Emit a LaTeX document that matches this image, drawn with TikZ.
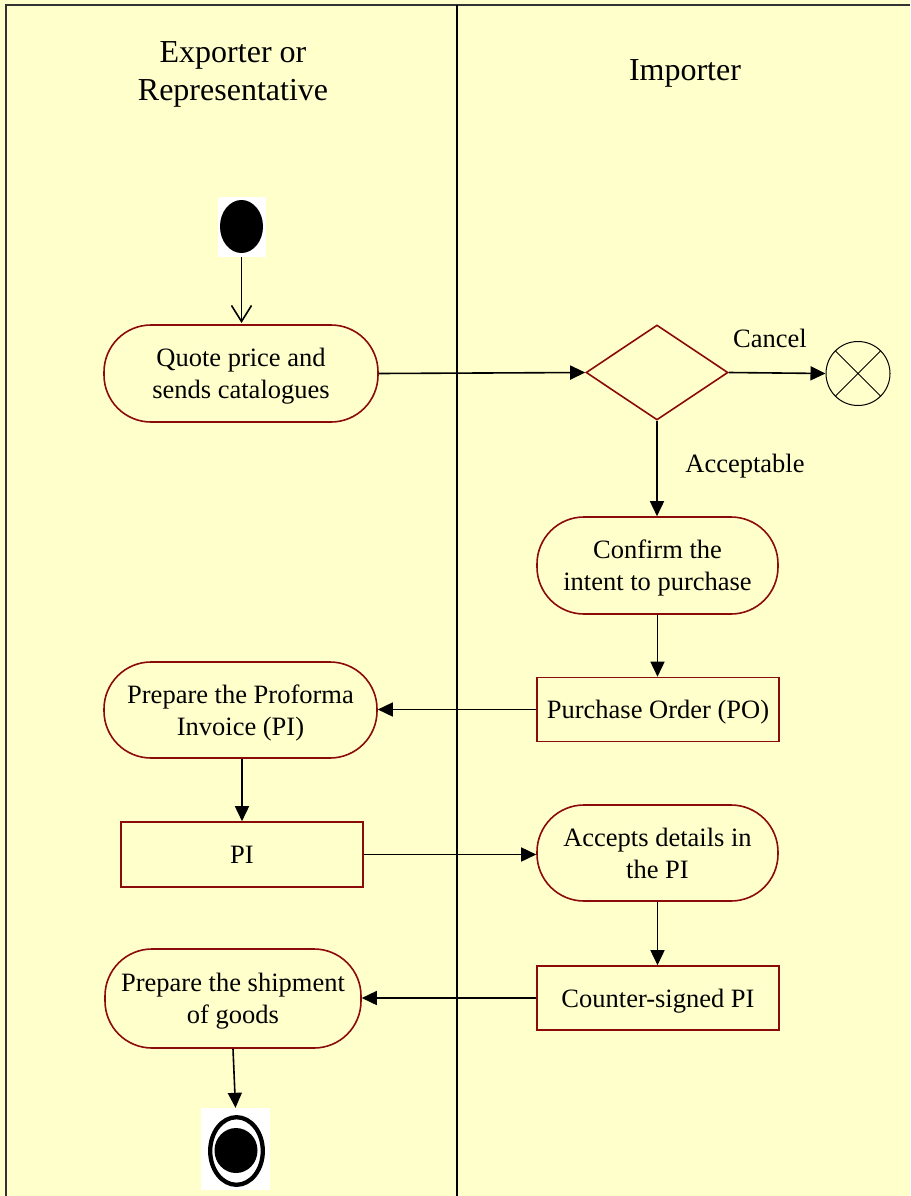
\documentclass[tikz,border=0pt]{standalone}
\usepackage{fontspec}
\setmainfont{Liberation Serif}
\usetikzlibrary{arrows.meta,shapes.geometric}
\definecolor{bgy}{RGB}{255,255,204}
\definecolor{dred}{RGB}{139,10,10}
\newcommand\ntext[1]{\raisebox{-3pt}[\height][\depth]{\begin{tabular}{@{}c@{}}#1\end{tabular}}}
\begin{document}
\begin{tikzpicture}[x=1pt,y=-1pt,
  txt/.style={font=\fontsize{26.5}{32}\selectfont,align=center,inner sep=0pt},
  hdr/.style={font=\fontsize{32}{38.4}\selectfont,align=center,inner sep=0pt},
  act/.style={draw=dred,line width=1.6pt,rectangle,rounded corners=47pt,txt,minimum width=#1},
  obj/.style={draw=dred,line width=1.6pt,rectangle,txt,minimum width=242pt,minimum height=64pt},
  flow/.style={line width=1.6pt,-{Triangle[length=15pt,width=14pt]}},
  lbl/.style={font=\fontsize{26.5}{32}\selectfont,inner sep=0pt}]
\fill[bgy] (0,0) rectangle (910,1196);
\useasboundingbox (0,0) rectangle (910,1196);
% frame
\draw[line width=1.6pt,black!80] (6,1196) -- (6,5) -- (910,5);
\draw[line width=2.2pt] (457,5) -- (457,1196);
% headers
\node[hdr] (h1) at (233,74.5) {Exporter or\\Representative};
\node[hdr] (h2) at (685,73) {Importer};
% start
\node[fill=white,minimum width=48pt,minimum height=60pt,inner sep=0pt] (start) at (241.5,227) {};
\fill[black] (241.5,226.5) ellipse [x radius=21.5, y radius=26.5];
% activities
\node[act=274pt,minimum height=97pt] (quote) at (241,373.5) {\ntext{Quote price and\\sends catalogues}};
\node[draw=dred,line width=1.6pt,diamond,minimum width=142pt,minimum height=95pt,inner sep=0pt] (dia) at (657,372.5) {};
\node[draw=black,line width=1pt,circle,minimum size=64pt,inner sep=0pt] (cancel) at (858,373.5) {};
\draw[line width=1pt] (cancel.45) -- (cancel.225) (cancel.135) -- (cancel.315);
\node[act=241pt,minimum height=97pt] (confirm) at (657.5,565.5) {\ntext{Confirm the\\intent to purchase}};
\node[obj] (po) at (658,709.5) {\ntext{Purchase Order (PO)}};
\node[act=273pt,minimum height=96pt] (prep) at (240.5,710) {\ntext{Prepare the Proforma\\Invoice (PI)}};
\node[obj,minimum height=65pt] (pi) at (242,854.5) {\ntext{PI}};
\node[act=241pt,minimum height=96pt] (acc) at (657.5,853) {\ntext{Accepts details in\\the PI}};
\node[obj] (cs) at (658,998) {\ntext{Counter-signed PI}};
\node[act=256pt,minimum height=99pt] (ship) at (233,998.5) {\ntext{Prepare the shipment\\of goods}};
% end
\node[fill=white,minimum width=69pt,minimum height=82pt,inner sep=0pt] (end) at (235.5,1149) {};
\draw[line width=4.3pt] (236.5,1151) ellipse [x radius=26.3, y radius=33.8];
\fill[black] (236,1150.5) ellipse [x radius=21.5, y radius=22.5];
% labels
\node[lbl] (lc) at (770,338) {Cancel};
\node[lbl] (la) at (745,466) {Acceptable};
% connectors
\draw[line width=1.6pt,-{Straight Barb[length=16pt,width=20pt]}] (start.south) -- (241.5,323);
\draw[flow] (quote.east) -- (dia.west);
\draw[flow] (dia.east) -- (cancel.west);
\draw[flow] (dia.south) -- (dia.south |- confirm.north);
\draw[flow] (confirm.south) -- (confirm.south |- po.north);
\draw[flow] (po.west) -- (po.west -| prep.east);
\draw[flow] (prep.south -| pi.north) -- (pi.north);
\draw[flow] (pi.east) -- (pi.east -| acc.west);
\draw[flow] (acc.south) -- (acc.south |- cs.north);
\draw[flow] (cs.west) -- (cs.west -| ship.east);
\draw[flow] (ship.south) -- (end.north);
\end{tikzpicture}
\end{document}
